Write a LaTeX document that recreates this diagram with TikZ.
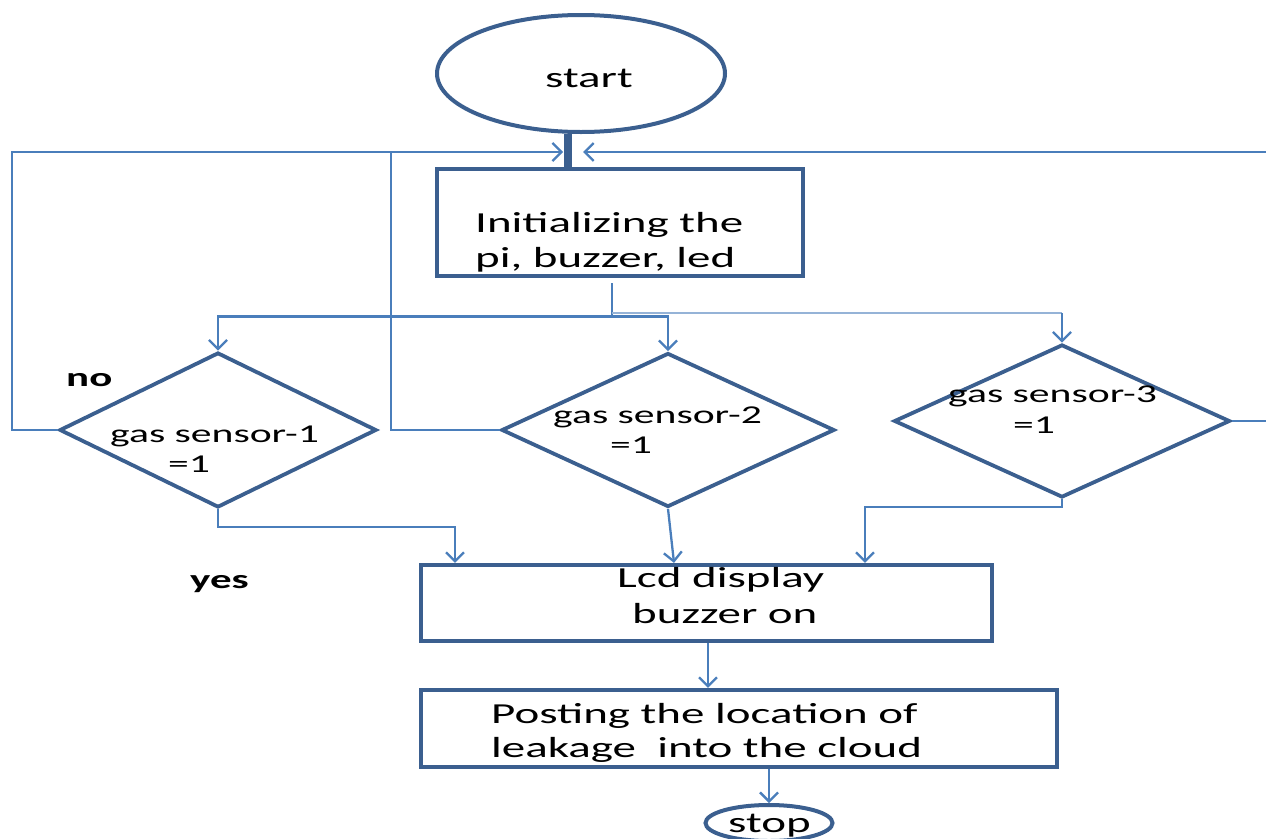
\documentclass[tikz,border=0pt]{standalone}
\usepackage{fontspec}
\setmainfont{Carlito}[FakeStretch=1.62]
\usetikzlibrary{shapes.geometric,arrows.meta}
\definecolor{boxc}{HTML}{3B5F8F}
\definecolor{linec}{HTML}{4A7EBB}
\definecolor{lightc}{HTML}{95B3D7}
\begin{document}
\begin{tikzpicture}[x=1pt,y=-1pt,
 box/.style={draw=boxc,line width=4.2pt,rectangle,inner sep=0},
 dia/.style={draw=boxc,line width=3.8pt,diamond,inner sep=0},
 oval/.style={draw=boxc,line width=4pt,ellipse,inner sep=0},
 conn/.style={draw=linec,line width=2.3pt},
 arr/.style={conn,-{Straight Barb[length=9pt,width=18pt]}},
 txt/.style={anchor=base west,inner sep=0,font=\fontsize{29}{29}\selectfont},
 dtxt/.style={anchor=base west,inner sep=0,font=\fontsize{25.7}{25.7}\selectfont},
 lbl/.style={anchor=base west,inner sep=0,font=\bfseries\fontsize{26.5}{26.5}\selectfont}]
\useasboundingbox (0,0) rectangle (1266,838);
% shapes
\node[oval,minimum width=288,minimum height=117] (start) at (581,73.5) {};
\node[box,minimum width=366,minimum height=107] (init) at (620,222.5) {};
\node[dia,minimum width=317,minimum height=155] (d1) at (218,430) {};
\node[dia,minimum width=333,minimum height=154] (d2) at (668,430) {};
\node[dia,minimum width=336,minimum height=153] (d3) at (1062,421) {};
\node[box,minimum width=571,minimum height=76] (lcd) at (706.5,603) {};
\node[box,minimum width=636,minimum height=77] (post) at (739,728.5) {};
\node[oval,minimum width=127,minimum height=36] (stop) at (769,823) {};
% texts
\node[txt] (tstart) at (545,87) {start};
\node[txt] (ti1) at (475,232) {Initializing the};
\node[txt] (ti2) at (475,267) {pi, buzzer, led};
\node[dtxt] (t11) at (110,442) {gas sensor-1};
\node[dtxt] (t12) at (168,472) {=1};
\node[dtxt] (t21) at (553,423) {gas sensor-2};
\node[dtxt] (t22) at (610,453) {=1};
\node[dtxt] (t31) at (948,402) {gas sensor-3};
\node[dtxt] (t32) at (1013,433) {=1};
\node[txt] (tl1) at (617,587) {Lcd display};
\node[txt] (tl2) at (632,623) {buzzer on};
\node[txt] (tp1) at (491,723) {Posting the location of};
\node[txt] (tp2) at (491,757) {leakage\ \ into the cloud};
\node[txt] (ts) at (728,832) {stop};
\node[lbl] (no) at (66,386) {no};
\node[lbl] (yes) at (190,588) {yes};
% helper coordinates
\coordinate (tk) at (568,0);
\coordinate (jl) at (563,152);
\coordinate (jr) at (583,152);
\coordinate (le) at (12,0);
\coordinate (me) at (391,0);
\coordinate (re) at (1266,152);
\coordinate (b0) at (612,283);
\coordinate (b1) at (612,316.5);
\coordinate (b2) at (612,313);
\coordinate (y1) at (0,527);
\coordinate (y3) at (0,507);
\coordinate (l1) at (455,0);
\coordinate (l2) at (674,0);
\coordinate (l3) at (865,0);
\coordinate (l4) at (708,0);
% connectors
\draw[boxc,line width=8pt] (start.south -| tk) -- (init.north -| tk);
\draw[arr] (d1.west) -- (d1.west -| le) |- (jl);
\draw[conn] (d2.west) -- (d2.west -| me) -- (me |- jl);
\draw[arr] (re) -- (jr);
\draw[conn] (d3.east) -- (d3.east -| re);
\draw[conn] (b0) -- (b1);
\draw[arr] (b1) -| (d1.north);
\draw[arr] (b1) -| (d2.north);
\draw[lightc,line width=2.3pt] (b2) -- (b2 -| d3.north);
\draw[arr] (b2 -| d3.north) -- (d3.north);
\draw[arr] (d1.south) |- (l1 |- y1) -- (l1 |- lcd.north);
\draw[arr] (d2.south) -- (l2 |- lcd.north);
\draw[arr] (d3.south) |- (l3 |- y3) -- (l3 |- lcd.north);
\draw[arr] (l4 |- lcd.south) -- (l4 |- post.north);
\draw[arr] (stop.north |- post.south) -- (stop.north);
\end{tikzpicture}
\end{document}
